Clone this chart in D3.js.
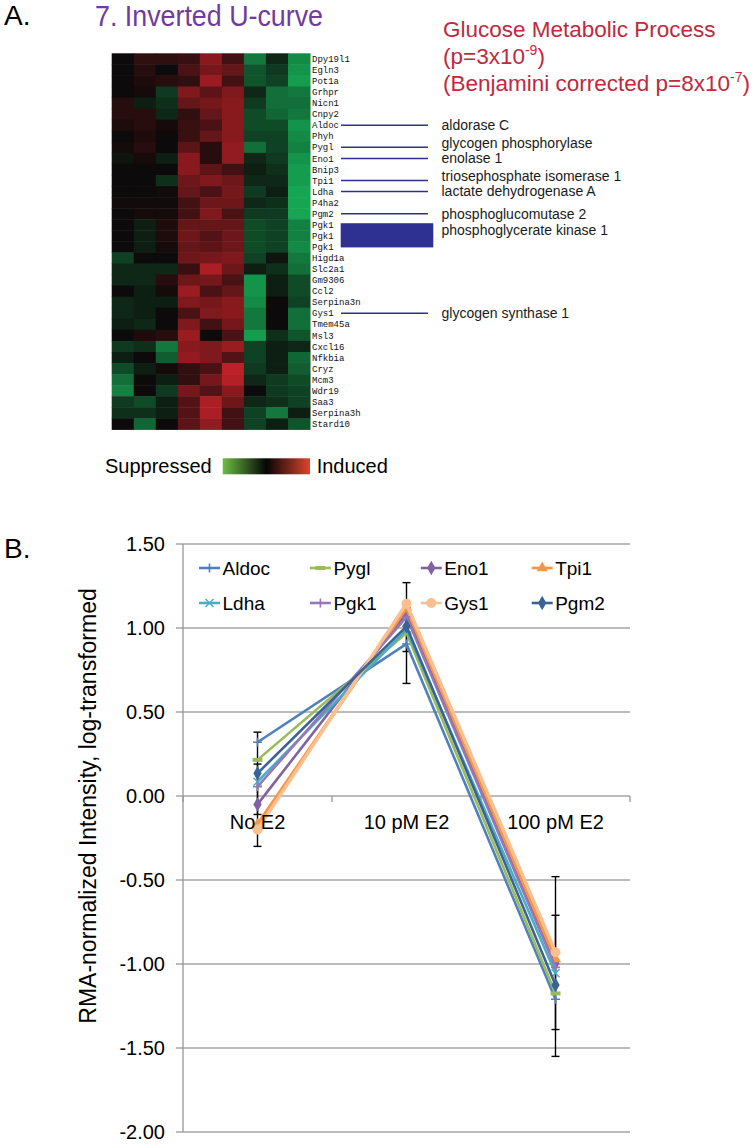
<!DOCTYPE html>
<html><head><meta charset="utf-8">
<script src="https://cdn.jsdelivr.net/npm/d3@7"></script>
<style>body{margin:0;background:#fff}svg{display:block}</style>
</head><body><svg id="c" width="754" height="1146" font-family="Arial, 'Liberation Sans', sans-serif"></svg>
<script>
// ---------------- Panel A data ----------------
const genes = ["Dpy19l1","Egln3","Pot1a","Grhpr","Nicn1","Cnpy2","Aldoc","Phyh","Pygl","Eno1","Bnip3","Tpi1","Ldha","P4ha2","Pgm2","Pgk1","Pgk1","Pgk1","Higd1a","Slc2a1","Gm9306","Ccl2","Serpina3n","Gys1","Tmem45a","Msl3","Cxcl16","Nfkbia","Cryz","Mcm3","Wdr19","Saa3","Serpina3h","Stard10"];
const heatColumns = [1,2,3,4,5,6,7,8,9];
const heatValues = [
 [0,0.2,0.2,0.25,0.7,0.3,-0.6,-0.15,-0.7],
 [0,0.15,0,0.35,0.6,0.5,-0.4,-0.25,-0.75],
 [0,0.1,0.15,0.2,0.8,0.3,-0.4,-0.3,-0.8],
 [0,0.05,-0.25,0.65,0.45,0.65,-0.15,-0.55,-0.6],
 [0.15,-0.1,-0.2,0.5,0.6,0.7,-0.25,-0.55,-0.55],
 [0.15,0.15,-0.15,0.2,0.5,0.7,-0.35,-0.5,-0.6],
 [0.1,0.15,0.05,0.25,0.35,0.7,-0.35,-0.35,-0.75],
 [0,0.1,0,0.25,0.5,0.7,-0.3,-0.3,-0.7],
 [0.05,0.15,0,0.45,0.15,0.75,-0.55,-0.3,-0.65],
 [-0.05,0.05,-0.1,0.7,0.15,0.75,-0.15,-0.25,-0.75],
 [0,0,0,0.7,0.45,0.3,-0.1,-0.2,-0.8],
 [0,0,-0.2,0.55,0.65,0.55,-0.15,-0.15,-0.8],
 [0,0,0.03,0.5,0.35,0.6,-0.25,-0.1,-0.85],
 [0.03,0.03,0.03,0.3,0.55,0.55,-0.15,-0.2,-0.85],
 [0,0.05,0.05,0.3,0.65,0.35,-0.25,-0.25,-0.85],
 [0,-0.1,0.1,0.5,0.5,0.5,-0.35,-0.3,-0.65],
 [0,-0.1,0.1,0.55,0.4,0.55,-0.35,-0.3,-0.65],
 [0,-0.1,0.05,0.5,0.45,0.55,-0.35,-0.3,-0.7],
 [-0.3,0,0,0.55,0.6,0.65,-0.3,-0.05,-0.6],
 [-0.15,-0.15,-0.15,0.25,0.9,0.55,-0.1,-0.2,-0.55],
 [-0.15,-0.15,0.15,0.55,0.6,0.35,-0.75,-0.1,-0.35],
 [0,-0.1,0.05,0.8,0.35,0.5,-0.75,-0.1,-0.35],
 [-0.15,-0.1,-0.1,0.65,0.6,0.7,-0.7,0,-0.3],
 [-0.15,-0.1,0,0.35,0.65,0.7,-0.6,0,-0.55],
 [-0.1,-0.15,0,0.65,0.3,0.6,-0.6,0,-0.55],
 [0,0.1,0.15,0.8,0,0.35,-0.8,-0.2,-0.4],
 [-0.25,-0.2,-0.6,0.7,0.65,0.8,-0.3,-0.1,-0.15],
 [-0.1,0,-0.45,0.75,0.65,0.4,-0.3,-0.1,-0.5],
 [-0.35,-0.1,0.05,0.2,0.35,1.0,-0.25,-0.1,-0.45],
 [-0.55,0,-0.1,0.2,0.6,0.95,-0.15,-0.25,-0.35],
 [-0.65,0,-0.25,0.6,0.4,0.7,0,-0.25,-0.3],
 [-0.25,-0.35,-0.1,0.4,0.9,0.55,-0.15,-0.2,-0.3],
 [-0.2,-0.2,-0.1,0.4,0.9,0.3,-0.3,-0.6,-0.1],
 [0,-0.5,0,0.45,0.75,0.3,-0.3,-0.1,-0.4]
];
const annotRows = [6,8,9,11,12,14,23];
const annotNames = ["aldorase C","glycogen phosphorylase","enolase 1","triosephosphate isomerase 1","lactate dehydrogenase A","phosphoglucomutase 2","glycogen synthase 1"];
const boxRows = [15,16,17];
const boxName = "phosphoglycerate kinase 1";

// ---------------- Panel B data ----------------
const categories = ["No E2","10 pM E2","100 pM E2"];
const seriesNames = ["Aldoc","Pygl","Eno1","Tpi1","Ldha","Pgk1","Gys1","Pgm2"];
const aldoc = [0.32, 0.905, -1.21];
const pygl  = [0.215, 0.97, -1.175];
const eno1  = [-0.05, 1.09, -0.995];
const tpi1  = [-0.17, 1.12, -0.97];
const ldha  = [0.085, 0.99, -1.055];
const pgk1  = [0.055, 1.065, -1.02];
const gys1  = [-0.20, 1.145, -0.93];
const pgm2  = [0.135, 1.01, -1.125];
const seriesColors = ["#4F81BD","#9BBB59","#8064A2","#F79646","#4BACC6","#9479B8","#FAC090","#3A6395"];
const seriesMarkers = ["plus","dash","diamond","triangle","x","plus","circle","diamond"];
const yTicks = [1.5,1,0.5,0,-0.5,-1,-1.5,-2];
const yTickLabels = ["1.50","1.00","0.50","0.00","-0.50","-1.00","-1.50","-2.00"];
const errCategory = [0,0,1,1,2,2];
const errCenter = [0.04,0.04,0.97,0.99,-1.015,-1.05];
const errHalf = [0.34,0.15,0.30,0.13,0.535,0.34];

const svg = d3.select("#c");
svg.append("rect").attr("width",754).attr("height",1146).attr("fill","#fff");

// ---------------- Panel A ----------------
svg.append("text").attr("x",4).attr("y",25).attr("font-size",28).attr("fill","#000").text("A.");
svg.append("text").attr("x",95).attr("y",26).attr("font-size",29).attr("fill","#6F3B9E")
  .attr("textLength",228).attr("lengthAdjust","spacingAndGlyphs").text("7. Inverted U-curve");

const gt = svg.append("g").attr("fill","#C1283E").attr("font-size",22.5);
gt.append("text").attr("x",443).attr("y",37).text("Glucose Metabolic Process");
const l2 = gt.append("text").attr("x",443).attr("y",64);
l2.append("tspan").text("(p=3x10");
l2.append("tspan").attr("dy",-9).attr("font-size",14).text("-9");
l2.append("tspan").attr("dy",9).text(")");
const l3 = gt.append("text").attr("x",443).attr("y",91);
l3.append("tspan").text("(Benjamini corrected p=8x10");
l3.append("tspan").attr("dy",-9).attr("font-size",14).text("-7");
l3.append("tspan").attr("dy",9).text(")");

const hx = d3.scaleBand().domain(heatColumns).range([111.7,310]);
const hy = d3.scaleBand().domain(d3.range(genes.length)).range([53.3,429.4]);
const pos = d3.scaleLinear().domain([0,1]).range(["#0c0a0a","#bd2127"]);
const neg = d3.scaleLinear().domain([0,1]).range(["#0c0c0a","#16c060"]);
const heatColor = v => v >= 0 ? pos(v) : neg(-v);
const rowMid = r => hy(r) + hy.bandwidth()/2;

const hm = svg.append("g");
heatValues.forEach((row,r) => {
  hm.selectAll(null).data(row).enter().append("rect")
    .attr("x",(d,i)=>hx(heatColumns[i])).attr("y",hy(r))
    .attr("width",hx.bandwidth()+0.5).attr("height",hy.bandwidth()+0.5)
    .attr("fill",d=>heatColor(d));
});
svg.append("g").selectAll("text").data(genes).enter().append("text")
  .attr("x",312).attr("y",(d,i)=>rowMid(i)).attr("dy","0.35em")
  .style("font-family","'Liberation Mono','DejaVu Sans Mono',monospace")
  .attr("font-size",9).attr("fill","#111").text(d=>d);

const an = svg.append("g");
an.selectAll("line").data(annotRows).enter().append("line")
  .attr("x1",341).attr("x2",428)
  .attr("y1",r=>rowMid(r)).attr("y2",r=>rowMid(r))
  .attr("stroke","#2E3192").attr("stroke-width",1.5);
// label positions: row centre, pushed upward when too close to the next label
const boxTextY = hy(boxRows[1]);
const labelY = annotRows.map(rowMid);
const allY = labelY.concat([boxTextY]).map((v,i)=>({v,i})).sort((a,b)=>a.v-b.v);
for (let k = allY.length-2; k >= 0; k--) allY[k].v = Math.min(allY[k].v, allY[k+1].v - 15);
allY.forEach(o=>{ if (o.i < labelY.length) labelY[o.i] = o.v; });
an.selectAll("text").data(annotNames).enter().append("text")
  .attr("x",441.5).attr("y",(d,i)=>labelY[i]).attr("dy","0.35em")
  .attr("font-size",14).attr("fill","#1a1a1a").text(d=>d);
const by0 = hy(boxRows[0]) + 4, by1 = hy(boxRows[boxRows.length-1]) + hy.bandwidth() - 5;
an.append("rect").attr("x",340.7).attr("y",by0).attr("width",92.6).attr("height",by1-by0).attr("fill","#2E3192");
an.append("text").attr("x",441.5).attr("y",boxTextY).attr("dy","0.35em")
  .attr("font-size",14).attr("fill","#1a1a1a").text(boxName);

const defs = svg.append("defs");
const lg = defs.append("linearGradient").attr("id","gr");
[["0%","#6CBE45"],["50%","#050505"],["100%","#E0432B"]].forEach(s=>lg.append("stop").attr("offset",s[0]).attr("stop-color",s[1]));
svg.append("rect").attr("x",222.7).attr("y",458.3).attr("width",87.3).attr("height",16).attr("fill","url(#gr)");
svg.append("text").attr("x",211.7).attr("y",466).attr("dy","0.35em").attr("text-anchor","end").attr("font-size",20).text("Suppressed");
svg.append("text").attr("x",316.7).attr("y",466).attr("dy","0.35em").attr("font-size",20).text("Induced");

// ---------------- Panel B ----------------
const x = d3.scaleBand().domain(categories).range([183,630]);
const y = d3.scaleLinear().domain([-2,1.5]).range([1132,544]);
const cx = c => x(c) + x.bandwidth()/2;

svg.append("text").attr("x",4).attr("y",558).attr("font-size",28).text("B.");

const grid = svg.append("g");
grid.selectAll("line").data(yTicks).enter().append("line")
  .attr("x1",176).attr("x2",630).attr("y1",d=>y(d)).attr("y2",d=>y(d))
  .attr("stroke","#A6A6A6").attr("stroke-width",1.3);
grid.append("line").attr("x1",183).attr("x2",183).attr("y1",544).attr("y2",1132).attr("stroke","#969696").attr("stroke-width",1.3);
grid.selectAll("line.t").data([...categories.map(c=>x(c)), 630]).enter().append("line").attr("class","t")
  .attr("x1",d=>d).attr("x2",d=>d).attr("y1",y(0)).attr("y2",y(0)+6)
  .attr("stroke","#969696").attr("stroke-width",1.3);

svg.append("g").selectAll("text").data(yTicks).enter().append("text")
  .attr("x",165).attr("y",d=>y(d)).attr("dy","0.35em").attr("text-anchor","end")
  .attr("font-size",20).text((d,i)=>yTickLabels[i]);

svg.append("text").attr("transform",`translate(96,${(544+1132)/2 - 32}) rotate(-90)`)
  .attr("text-anchor","middle").attr("font-size",23).text("RMA-normalized Intensity, log-transformed");

const seriesData = [aldoc,pygl,eno1,tpi1,ldha,pgk1,gys1,pgm2];
const line = d3.line().x((d,i)=>cx(categories[i])).y(d=>y(d));

function marker(g, type, color, px, py) {
  if (type === "plus") {
    g.append("path").attr("d",`M${px-4.5},${py}H${px+4.5}M${px},${py-4.5}V${py+4.5}`).attr("stroke",color).attr("stroke-width",1.6).attr("fill","none");
  } else if (type === "dash") {
    g.append("path").attr("d",`M${px-5},${py}H${px+5}`).attr("stroke",color).attr("stroke-width",4).attr("fill","none");
  } else if (type === "x") {
    g.append("path").attr("d",`M${px-4},${py-4}L${px+4},${py+4}M${px-4},${py+4}L${px+4},${py-4}`).attr("stroke",color).attr("stroke-width",1.5).attr("fill","none");
  } else if (type === "circle") {
    g.append("circle").attr("cx",px).attr("cy",py).attr("r",5).attr("fill",color);
  } else {
    const sym = type === "diamond" ? d3.symbolDiamond : d3.symbolTriangle;
    g.append("path").attr("transform",`translate(${px},${py})`).attr("d",d3.symbol(sym, type==="diamond"?60:55)()).attr("fill",color);
  }
}

// error bars
const eb = svg.append("g").attr("stroke","#000").attr("stroke-width",1.4);
errCenter.forEach((m,i)=>{
  const px = cx(categories[errCategory[i]]);
  const hi = y(m+errHalf[i]), lo = y(m-errHalf[i]);
  eb.append("line").attr("x1",px).attr("x2",px).attr("y1",hi).attr("y2",lo);
  eb.append("line").attr("x1",px-4).attr("x2",px+4).attr("y1",hi).attr("y2",hi);
  eb.append("line").attr("x1",px-4).attr("x2",px+4).attr("y1",lo).attr("y2",lo);
});

const lines = svg.append("g");
seriesData.forEach((vals,s)=>{
  const g = lines.append("g");
  g.append("path").attr("d",line(vals)).attr("fill","none").attr("stroke",seriesColors[s])
    .attr("stroke-width", (s===6||s===3)?3.5:2.6).attr("stroke-linejoin","round");
  vals.forEach((v,i)=>marker(g, seriesMarkers[s], seriesColors[s], cx(categories[i]), y(v)));
});

// category labels
svg.append("g").selectAll("text").data(categories).enter().append("text")
  .attr("x",d=>cx(d)).attr("y",829).attr("text-anchor","middle").attr("font-size",20).text(d=>d);

// legend
const lgB = svg.append("g");
seriesNames.forEach((n,i)=>{
  const col = i % 4, row = Math.floor(i/4);
  const x0 = 199 + col*110.9, yy = 568 + row*35;
  const g = lgB.append("g");
  g.append("line").attr("x1",x0).attr("x2",x0+21).attr("y1",yy).attr("y2",yy).attr("stroke",seriesColors[i]).attr("stroke-width",2.6);
  marker(g, seriesMarkers[i], seriesColors[i], x0+10.5, yy);
  g.append("text").attr("x",x0+23.5).attr("y",yy).attr("dy","0.35em").attr("font-size",19).text(n);
});
</script></body></html>
